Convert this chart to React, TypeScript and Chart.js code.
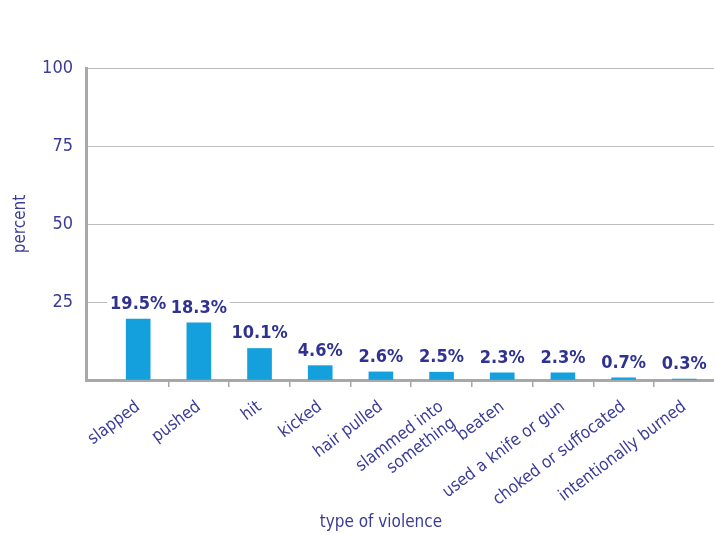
import React, { useEffect, useRef } from 'react';
import { Chart, registerables } from 'chart.js';

Chart.register(...registerables);

const categories: (string | string[])[] = [
  'slapped',
  'pushed',
  'hit',
  'kicked',
  'hair pulled',
  ['slammed into', 'something'],
  'beaten',
  'used a knife or gun',
  'choked or suffocated',
  'intentionally burned',
];
const percentValues = [19.5, 18.3, 10.1, 4.6, 2.6, 2.5, 2.3, 2.3, 0.7, 0.3];
const yTickValues = [0, 25, 50, 75, 100];
const boundaryTicks = [0.5, 1.5, 2.5, 3.5, 4.5, 5.5, 6.5, 7.5, 8.5];
const yAxisTitle = 'percent';
const xAxisTitle = 'type of violence';

const TEXT = '#3a3c97';
const LABEL = '#2f3290';
const BAR = '#14a0dc';
const AXIS = '#a8a8a8';
const GRID = '#bcbcbc';
const FONT = "'DejaVu Sans', sans-serif";

const valueLabels = {
  id: 'valueLabels',
  afterDatasetsDraw(chart: any) {
    const ctx = chart.ctx;
    const meta = chart.getDatasetMeta(0);
    ctx.save();
    ctx.font = `bold condensed 18px ${FONT}`;
    ctx.textAlign = 'center';
    ctx.textBaseline = 'alphabetic';
    meta.data.forEach((bar: any, i: number) => {
      const text = `${percentValues[i]}%`;
      const w = ctx.measureText(text).width;
      const y = bar.y - 10;
      ctx.fillStyle = '#ffffff';
      ctx.fillRect(bar.x - w / 2 - 3, y - 15, w + 6, 17);
      ctx.fillStyle = LABEL;
      ctx.fillText(text, bar.x, y);
    });
    ctx.restore();
  },
};

const xTitle = {
  id: 'xTitle',
  afterDraw(chart: any) {
    const ctx = chart.ctx;
    const xs = chart.scales.x;
    ctx.save();
    ctx.font = `condensed 17px ${FONT}`;
    ctx.fillStyle = TEXT;
    ctx.textAlign = 'center';
    ctx.textBaseline = 'middle';
    ctx.fillText(xAxisTitle, xs.getPixelForValue(4), chart.height - 12);
    ctx.restore();
  },
};

export default function App() {
  const ref = useRef<HTMLCanvasElement | null>(null);

  useEffect(() => {
    if (!ref.current) return;
    const chart = new Chart(ref.current, {
      type: 'bar',
      data: {
        datasets: [
          {
            data: percentValues.map((v, i) => ({ x: i, y: v })),
            backgroundColor: BAR,
            barThickness: 24,
          },
        ],
      },
      options: {
        animation: false,
        responsive: true,
        maintainAspectRatio: false,
        layout: { padding: { top: 68, left: 0, right: 0, bottom: 0 } },
        plugins: {
          legend: { display: false },
          tooltip: { enabled: false },
        },
        scales: {
          x: {
            type: 'linear',
            position: 'bottom',
            weight: 1,
            offset: false,
            min: -0.86,
            max: 9.49,
            afterBuildTicks: (s: any) => {
              s.ticks = categories.map((_, i) => ({ value: i }));
            },
            afterFit: (s: any) => {
              s.height = 148;
              s.paddingLeft = 0;
              s.paddingRight = 0;
            },
            ticks: {
              autoSkip: false,
              minRotation: 37,
              maxRotation: 37,
              padding: 2,
              color: TEXT,
              font: { family: FONT, size: 17, weight: 'condensed' },
              callback: (_v: any, i: number) => categories[i],
            },
            grid: { display: false, offset: false },
            border: { display: false },
          },
          x2: {
            type: 'linear',
            position: 'bottom',
            weight: 0,
            offset: false,
            min: -0.86,
            max: 9.49,
            afterBuildTicks: (s: any) => {
              s.ticks = boundaryTicks.map((v) => ({ value: v }));
            },
            afterFit: (s: any) => {
              s.paddingLeft = 0;
              s.paddingRight = 0;
            },
            ticks: { display: false },
            grid: {
              offset: false,
              drawOnChartArea: false,
              drawTicks: true,
              tickLength: 7,
              color: AXIS,
              lineWidth: 1.5,
            },
            border: { display: true, color: AXIS, width: 3 },
          },
          y: {
            min: 0,
            max: 100,
            afterBuildTicks: (s: any) => {
              s.ticks = yTickValues.map((v) => ({ value: v }));
            },
            afterFit: (s: any) => {
              s.width = 86;
            },
            ticks: {
              padding: 13,
              color: TEXT,
              font: { family: FONT, size: 18, weight: 'condensed' },
              callback: (v: any) => (v === 0 ? '' : String(v)),
            },
            grid: { color: GRID, lineWidth: 1, drawTicks: false },
            border: { display: true, color: AXIS, width: 3 },
            title: {
              display: true,
              text: yAxisTitle,
              color: TEXT,
              font: { family: FONT, size: 17, weight: 'condensed' },
              padding: { top: 10, bottom: 0 },
            },
          },
        },
      },
      plugins: [valueLabels, xTitle],
    });
    return () => chart.destroy();
  }, []);

  return (
    <div style={{ position: 'absolute', left: 0, top: 0, width: 714, height: 535, background: '#fff' }}>
      <canvas ref={ref} />
    </div>
  );
}
